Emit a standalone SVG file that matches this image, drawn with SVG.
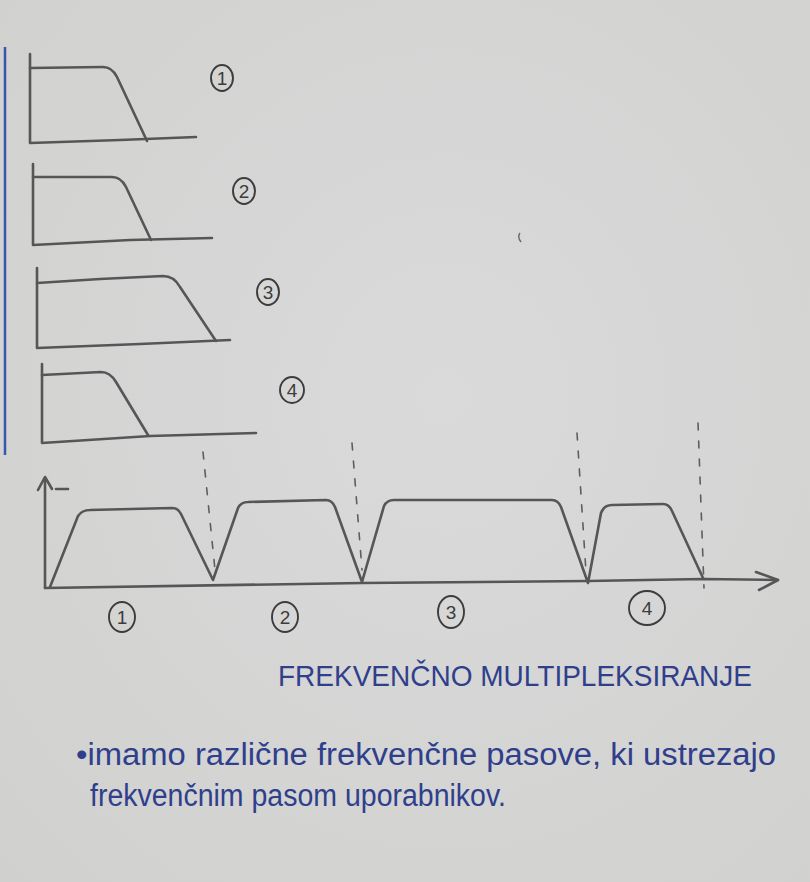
<svg xmlns="http://www.w3.org/2000/svg" width="810" height="882" viewBox="0 0 810 882">
<defs>
<radialGradient id="bg" cx="0.55" cy="0.45" r="0.8">
<stop offset="0" stop-color="#dadada"/>
<stop offset="1" stop-color="#d0d0cf"/>
</radialGradient>
<style>
.p{fill:none;stroke:#565656;stroke-width:2.6;stroke-linecap:round;stroke-linejoin:round}
.d{fill:none;stroke:#5e5e5e;stroke-width:1.6;stroke-dasharray:7 11;stroke-linecap:round}
.c{fill:none;stroke:#3c3c3c;stroke-width:1.9}
.n{font-family:"Liberation Sans",Arial,sans-serif;font-size:19px;fill:#3c3c3c;text-anchor:middle}
.ink{font-family:"Liberation Sans",Arial,sans-serif;fill:#2f3f8c}
</style>
</defs>
<rect width="810" height="882" fill="url(#bg)"/>
<line x1="5" y1="47" x2="5" y2="455" stroke="#3a55b0" stroke-width="2.5"/>
<path d="M520 233 q-3 4 1 9" fill="none" stroke="#666" stroke-width="1.4"/>

<g id="filter1">
<path class="p" d="M30 54 V143 L120 140 L196 137"/>
<path class="p" d="M30 68 L103 67 Q112 67 117 77 L147 141"/>
<ellipse class="c" cx="222" cy="78" rx="11" ry="13"/>
<text class="n" x="222" y="85">1</text>
</g>
<g id="filter2">
<path class="p" d="M33 164 V245 L130 240 L212 238"/>
<path class="p" d="M33 177 L112 177 Q121 177 126 187 L151 240"/>
<ellipse class="c" cx="244" cy="191" rx="11" ry="13"/>
<text class="n" x="244" y="198">2</text>
</g>
<g id="filter3">
<path class="p" d="M37 268 V348 L140 344 L230 340"/>
<path class="p" d="M37 283 L100 279 L163 276 Q174 276 180 287 L216 341"/>
<ellipse class="c" cx="268" cy="292" rx="11" ry="13"/>
<text class="n" x="268" y="299">3</text>
</g>
<g id="filter4">
<path class="p" d="M42 364 V443 L150 436 L256 433"/>
<path class="p" d="M42 375 L101 372 Q110 372 116 382 L148 435"/>
<ellipse class="c" cx="292" cy="390" rx="12" ry="13"/>
<text class="n" x="292" y="397">4</text>
</g>

<g id="spectrum">
<path class="p" d="M45 588 V478"/>
<path class="p" d="M38 490 L45 477 L52 489"/>
<path class="p" d="M56 489 H68" stroke-width="1.6"/>
<path class="p" d="M45 588 L362 583 L588 581 L703 579 L778 580"/>
<path class="p" d="M756 572 L778 580 L759 590"/>
<path class="p" d="M50 587 L78 516 Q82 510 90 510 L172 508 Q178 508 181 514 L213 580 L238 508 Q241 502 248 502 L326 500 Q332 500 335 507 L362 582 L384 506 Q387 500 394 500 L552 500 Q558 500 561 507 L588 583 L601 513 Q604 505 612 505 L663 504 Q669 504 672 511 L703 578"/>
</g>

<g id="connectors">
<path class="d" d="M203 452 L215 570"/>
<path class="d" d="M352 443 L362 570"/>
<path class="d" d="M577 433 L586 572"/>
<path class="d" d="M698 423 L704 588"/>
</g>

<g id="labels">
<ellipse class="c" cx="122" cy="617" rx="13" ry="15"/>
<text class="n" x="122" y="624">1</text>
<ellipse class="c" cx="285" cy="617" rx="13" ry="15"/>
<text class="n" x="285" y="624">2</text>
<ellipse class="c" cx="451" cy="612" rx="13" ry="16"/>
<text class="n" x="451" y="619">3</text>
<ellipse class="c" cx="647" cy="608" rx="18" ry="17"/>
<text class="n" x="647" y="615">4</text>
</g>

<g id="title">
<text class="ink" x="278" y="686" font-size="29" textLength="474" lengthAdjust="spacingAndGlyphs">FREKVENČNO MULTIPLEKSIRANJE</text>
</g>
<g id="note">
<text class="ink" x="76" y="765" font-size="31" textLength="700" lengthAdjust="spacingAndGlyphs">•imamo različne frekvenčne pasove, ki ustrezajo</text>
<text class="ink" x="90" y="806" font-size="31" textLength="416" lengthAdjust="spacingAndGlyphs">frekvenčnim pasom uporabnikov.</text>
</g>
</svg>
